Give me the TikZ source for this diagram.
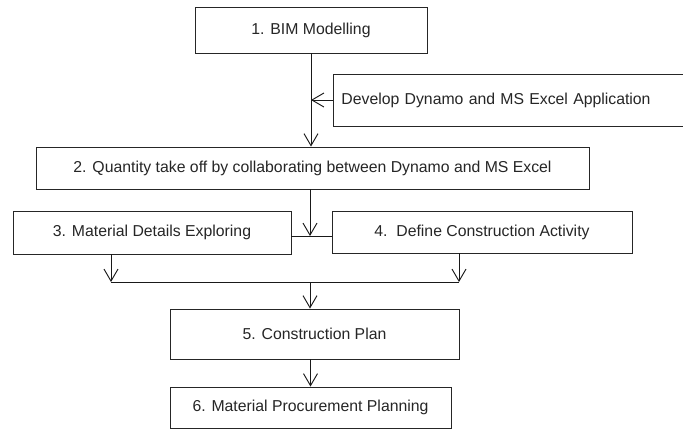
\documentclass[tikz,border=0pt]{standalone}
\usepackage{fontspec}
\setmainfont{Liberation Sans}
\usetikzlibrary{arrows.meta}
\def\pxu{0.75pt}
\begin{document}
\begin{tikzpicture}[x=0.75pt,y=-0.75pt,
  box/.style={draw=black!85, line width=0.7pt, rectangle, inner sep=0pt, align=center,
    text=black!85, font=\fontsize{11.85pt}{14pt}\selectfont},
  conn/.style={draw=black!90, line width=0.7pt},
  arr/.style={conn, -{Straight Barb[length=9pt,width=10.5pt]}}]
\clip (0,0) rectangle (683,430);
\fill[white] (0,0) rectangle (683,430);

\node[box, minimum width=232*\pxu, minimum height=46*\pxu] (b1) at (311,30) {1. BIM Modelling};
\node[box, anchor=west, align=left, text width=341*\pxu, inner xsep=8*\pxu, minimum height=52*\pxu] (dev) at (333,100) {Develop Dynamo and MS Excel Application};
\node[box, minimum width=553*\pxu, minimum height=42*\pxu] (b2) at (312.5,168) {2. Quantity take off by collaborating between Dynamo and MS Excel};
\node[box, minimum width=278*\pxu, minimum height=43*\pxu] (b3) at (152,232.5) {3. Material Details Exploring};
\node[box, minimum width=300*\pxu, minimum height=42*\pxu] (b4) at (482,232) {4.\ \ Define Construction Activity};
\node[box, minimum width=289*\pxu, minimum height=50*\pxu] (b5) at (314.5,334) {5. Construction Plan};
\node[box, minimum width=281*\pxu, minimum height=41.5*\pxu] (b6) at (310.5,407.75) {6. Material Procurement Planning};

\coordinate (j2) at (310,236);
\coordinate (j3) at (111,282);
\coordinate (j4) at (459,282);
\coordinate (j5) at (310,282);

\draw[arr] (b1.south) -- (b1.south |- b2.north);
\draw[arr] (dev.west) -- (dev.west -| b1.south);
\draw[conn] (j2 -| b3.east) -- (j2 -| b4.west);
\draw[arr] (b2.south -| j2) -- (j2);
\draw[arr] (b3.south -| j3) -- (j3);
\draw[arr] (b4.south -| j4) -- (j4);
\draw[conn] (j3) -- (j4);
\draw[arr] (j5) -- (j5 |- b5.north);
\draw[arr] (b6.north |- b5.south) -- (b6.north);
\end{tikzpicture}
\end{document}
